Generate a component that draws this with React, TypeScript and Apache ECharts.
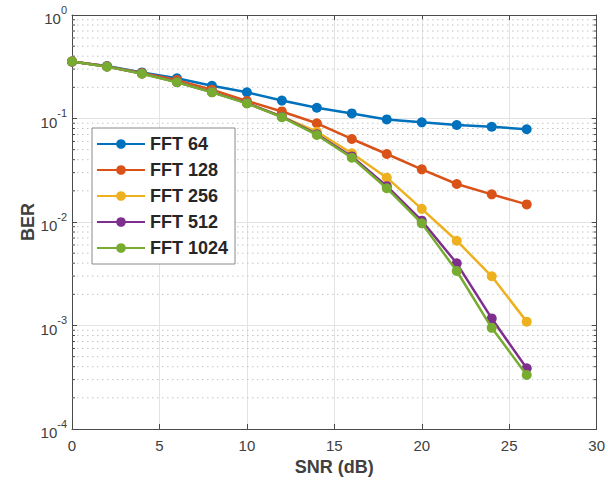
import React, { useEffect, useRef } from "react";
import * as echarts from "echarts";

const snr = [0, 2, 4, 6, 8, 10, 12, 14, 16, 18, 20, 22, 24, 26];
const fft64 = [0.354, 0.321, 0.279, 0.245, 0.207, 0.179, 0.149, 0.127, 0.112, 0.098, 0.0919, 0.0865, 0.0833, 0.0787];
const fft128 = [0.355, 0.319, 0.275, 0.235, 0.19, 0.148, 0.117, 0.0899, 0.0634, 0.0454, 0.0323, 0.0233, 0.0185, 0.0148];
const fft256 = [0.355, 0.318, 0.272, 0.225, 0.181, 0.141, 0.104, 0.0745, 0.0461, 0.0268, 0.0134, 0.00659, 0.00299, 0.00109];
const fft512 = [0.356, 0.318, 0.272, 0.225, 0.18, 0.141, 0.104, 0.0705, 0.043, 0.0222, 0.0103, 0.00399, 0.00117, 0.000386];
const fft1024 = [0.356, 0.317, 0.271, 0.224, 0.179, 0.14, 0.103, 0.0693, 0.0418, 0.0212, 0.0097, 0.00336, 0.00095, 0.000333];

const seriesNames = ["FFT 64", "FFT 128", "FFT 256", "FFT 512", "FFT 1024"];
const seriesColors = ["#0072BD", "#D95319", "#EDB120", "#7E2F8E", "#77AC30"];
const decades = [1e-4, 1e-3, 1e-2, 1e-1];
const minorMultipliers = [2, 3, 4, 5, 6, 7, 8, 9];

const FONT = "'Liberation Sans', Arial, Helvetica, sans-serif";
const TXT = "#262626";
const TICKTXT = "#404040";
const AX = "#4a4a4a";

export default function App() {
  const ref = useRef<HTMLDivElement>(null);
  useEffect(() => {
    if (!ref.current) return;
    const chart = echarts.init(ref.current, null, { renderer: "svg" });
    const all = [fft64, fft128, fft256, fft512, fft1024];
    const minorVals: number[][] = [];
    decades.forEach((d) => minorMultipliers.forEach((m) => minorVals.push([0, d * m])));

    const supLabel = (v: number) => {
      const e = Math.round(Math.log10(v));
      return `{b|10}{s|${e}}`;
    };
    const rich = {
      b: { fontSize: 15, fontFamily: FONT, color: TICKTXT, lineHeight: 22, verticalAlign: "bottom" },
      s: { fontSize: 11, fontFamily: FONT, color: TICKTXT, lineHeight: 22, verticalAlign: "top" },
    };

    chart.setOption({
      animation: false,
      grid: { left: 72, right: 11, top: 15, bottom: 56, show: false },
      graphic: [
        {
          type: "text",
          x: 28,
          y: 222,
          rotation: Math.PI / 2,
          style: {
            text: "BER",
            fontSize: 18,
            fontWeight: "bold",
            fontFamily: FONT,
            fill: TICKTXT,
            align: "center",
            verticalAlign: "middle",
          },
        },
      ],
      legend: {
        data: seriesNames,
        orient: "vertical",
        left: 92,
        top: 128,
        itemWidth: 48,
        itemHeight: 12,
        itemGap: 8,
        padding: [7, 7, 7, 4],
        backgroundColor: "#ffffff",
        borderColor: "#8a8a8a",
        borderWidth: 1,
        borderRadius: 0,
        textStyle: { fontSize: 18, fontWeight: "bold", fontFamily: FONT, color: TXT, lineHeight: 18 },
      },
      xAxis: [
        {
          type: "value",
          min: 0,
          max: 30,
          interval: 5,
          name: "SNR (dB)",
          nameLocation: "middle",
          nameGap: 28,
          nameTextStyle: { fontSize: 18, fontWeight: "bold", fontFamily: FONT, color: TICKTXT },
          axisLine: { show: true, lineStyle: { color: AX, width: 1 } },
          axisTick: { show: true, inside: true, length: 5, lineStyle: { color: AX } },
          axisLabel: { fontSize: 15, fontFamily: FONT, color: TICKTXT, margin: 9 },
          splitLine: { show: true, lineStyle: { color: "#e3e3e3", width: 1 } },
        },
        {
          type: "value",
          position: "top",
          min: 0,
          max: 30,
          interval: 5,
          axisLine: { show: true, onZero: false, lineStyle: { color: AX, width: 1 } },
          axisTick: { show: true, inside: true, length: 5, lineStyle: { color: AX } },
          axisLabel: { show: false },
          splitLine: { show: false },
        },
      ],
      yAxis: [
        {
          type: "log",
          logBase: 10,
          min: 1e-4,
          max: 1,
          axisLine: { show: true, lineStyle: { color: AX, width: 1 } },
          axisTick: { show: true, inside: true, length: 5, lineStyle: { color: AX } },
          axisLabel: { formatter: supLabel, rich, margin: 5 },
          splitLine: { show: true, lineStyle: { color: "#e3e3e3", width: 1 } },
        },
        {
          type: "log",
          logBase: 10,
          min: 1e-4,
          max: 1,
          position: "right",
          axisLine: { show: true, onZero: false, lineStyle: { color: AX, width: 1 } },
          axisTick: { show: true, inside: true, length: 5, lineStyle: { color: AX } },
          axisLabel: { show: false },
          splitLine: { show: false },
        },
      ],
      series: [
        {
          type: "custom",
          name: "minorgrid",
          silent: true,
          z: 1,
          xAxisIndex: 0,
          yAxisIndex: 0,
          data: minorVals,
          renderItem: (params: any, api: any) => {
            const v = api.value(1);
            const p1 = api.coord([0, v]);
            const p2 = api.coord([30, v]);
            return {
              type: "group",
              children: [
                {
                  type: "line",
                  shape: { x1: p1[0], y1: p1[1], x2: p2[0], y2: p2[1] },
                  style: { stroke: "#c4c4c4", lineWidth: 1, lineDash: [1.5, 3.5] },
                },
                {
                  type: "line",
                  shape: { x1: p1[0], y1: p1[1], x2: p1[0] + 3, y2: p1[1] },
                  style: { stroke: AX, lineWidth: 1 },
                },
                {
                  type: "line",
                  shape: { x1: p2[0] - 3, y1: p2[1], x2: p2[0], y2: p2[1] },
                  style: { stroke: AX, lineWidth: 1 },
                },
              ],
            };
          },
        },
        ...seriesNames.map((name, i) => ({
          type: "line",
          name,
          z: 3 + i,
          data: snr.map((x, j) => [x, all[i][j]]),
          symbol: "circle",
          symbolSize: 10,
          showSymbol: true,
          lineStyle: { width: 2.5, color: seriesColors[i] },
          itemStyle: { color: seriesColors[i] },
          color: seriesColors[i],
        })),
      ],
    });
    return () => chart.dispose();
  }, []);
  return <div ref={ref} style={{ width: 608, height: 485, position: "absolute", left: 0, top: 0 }} />;
}
